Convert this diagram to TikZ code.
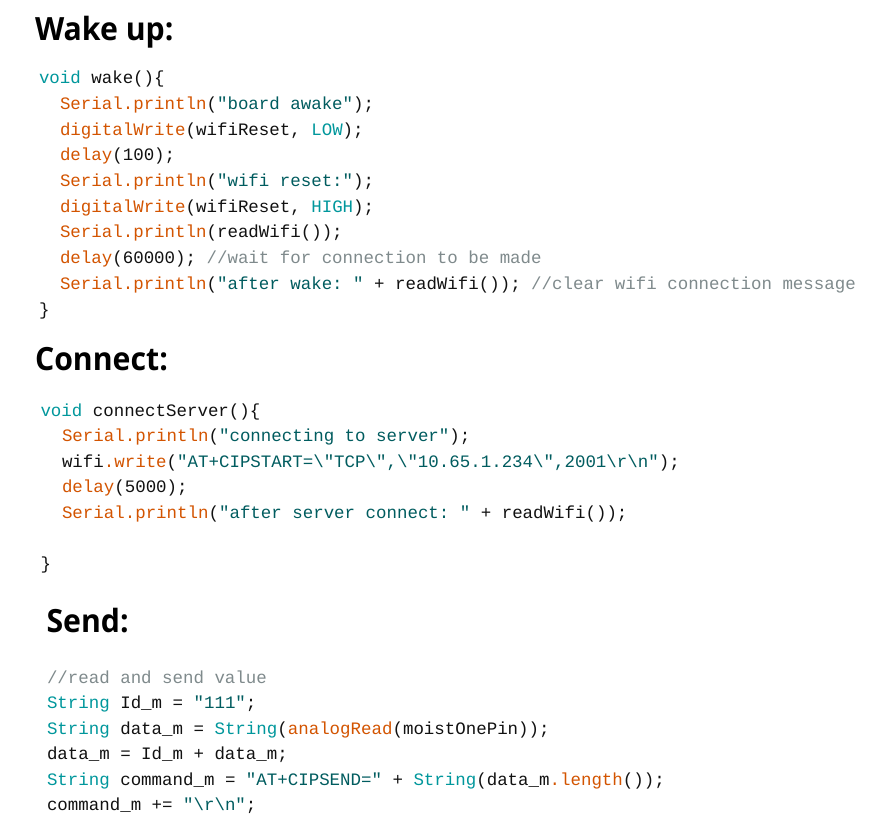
\documentclass[tikz,border=0pt]{standalone}
\usepackage{fontspec}
\usepackage{xcolor}
\setmonofont{Liberation Mono}
\newfontfamily\headfam{Open Sans}[FakeStretch=0.945]
\definecolor{kwc}{HTML}{00979C}
\definecolor{fnc}{HTML}{D35400}
\definecolor{strc}{HTML}{005C5F}
\definecolor{cmc}{HTML}{7F8A8C}
\definecolor{txc}{HTML}{111111}
\newcommand\ckw[1]{\textcolor{kwc}{#1}}
\newcommand\cfn[1]{\textcolor{fnc}{#1}}
\newcommand\cstr[1]{\textcolor{strc}{#1}}
\newcommand\ccm[1]{\textcolor{cmc}{#1}}
\newcommand\bs{\textbackslash}
\tikzset{
  codeline/.style={anchor=base west, inner sep=0pt, outer sep=0pt, text=txc,
    font=\ttfamily\fontsize{17.45}{20}\selectfont},
  headline/.style={anchor=base west, inner sep=0pt, outer sep=0pt, text=black,
    font=\headfam\bfseries\fontsize{32}{38}\selectfont}
}
\begin{document}
\begin{tikzpicture}[x=1pt,y=-1pt]
\fill[white] (0,0) rectangle (889,837);
\useasboundingbox (0,0) rectangle (889,837);
% Wake up
\node[headline] (hw) at (35,41) {Wake up:};
\node[codeline] (w1) at (39,84) {\ckw{void} wake()\{};
\node[codeline] (w2) at (60,109.7) {\cfn{Serial.println}(\cstr{"board awake"});};
\node[codeline] (w3) at (60,135.3) {\cfn{digitalWrite}(wifiReset, \ckw{LOW});};
\node[codeline] (w4) at (60,161) {\cfn{delay}(100);};
\node[codeline] (w5) at (60,186.7) {\cfn{Serial.println}(\cstr{"wifi reset:"});};
\node[codeline] (w6) at (60,212.3) {\cfn{digitalWrite}(wifiReset, \ckw{HIGH});};
\node[codeline] (w7) at (60,238) {\cfn{Serial.println}(readWifi());};
\node[codeline] (w8) at (60,263.7) {\cfn{delay}(60000); \ccm{//wait for connection to be made}};
\node[codeline] (w9) at (60,289.3) {\cfn{Serial.println}(\cstr{"after wake: "} + readWifi()); \ccm{//clear wifi connection message}};
\node[codeline] (w10) at (39,315) {\}};
% Connect
\node[headline] (hc) at (35,370) {Connect:};
\node[codeline] (c1) at (40.5,416) {\ckw{void} connectServer()\{};
\node[codeline] (c2) at (62,441.5) {\cfn{Serial.println}(\cstr{"connecting to server"});};
\node[codeline] (c3) at (62,467) {wifi\cfn{.write}(\cstr{"AT+CIPSTART=\bs"TCP\bs",\bs"10.65.1.234\bs",2001\bs r\bs n"});};
\node[codeline] (c4) at (62,492.5) {\cfn{delay}(5000);};
\node[codeline] (c5) at (62,518) {\cfn{Serial.println}(\cstr{"after server connect: "} + readWifi());};
\node[codeline] (c6) at (40.5,569) {\}};
% Send
\node[headline] (hs) at (46.5,632) {Send:};
\node[codeline] (s1) at (47,683) {\ccm{//read and send value}};
\node[codeline] (s2) at (47,708.5) {\ckw{String} Id\_m = \cstr{"111"};};
\node[codeline] (s3) at (47,734) {\ckw{String} data\_m = \ckw{String}(\cfn{analogRead}(moistOnePin));};
\node[codeline] (s4) at (47,759.5) {data\_m = Id\_m + data\_m;};
\node[codeline] (s5) at (47,785) {\ckw{String} command\_m = \cstr{"AT+CIPSEND="} + \ckw{String}(data\_m\cfn{.length}());};
\node[codeline] (s6) at (47,810.5) {command\_m += \cstr{"\bs r\bs n"};};
\end{tikzpicture}
\end{document}
